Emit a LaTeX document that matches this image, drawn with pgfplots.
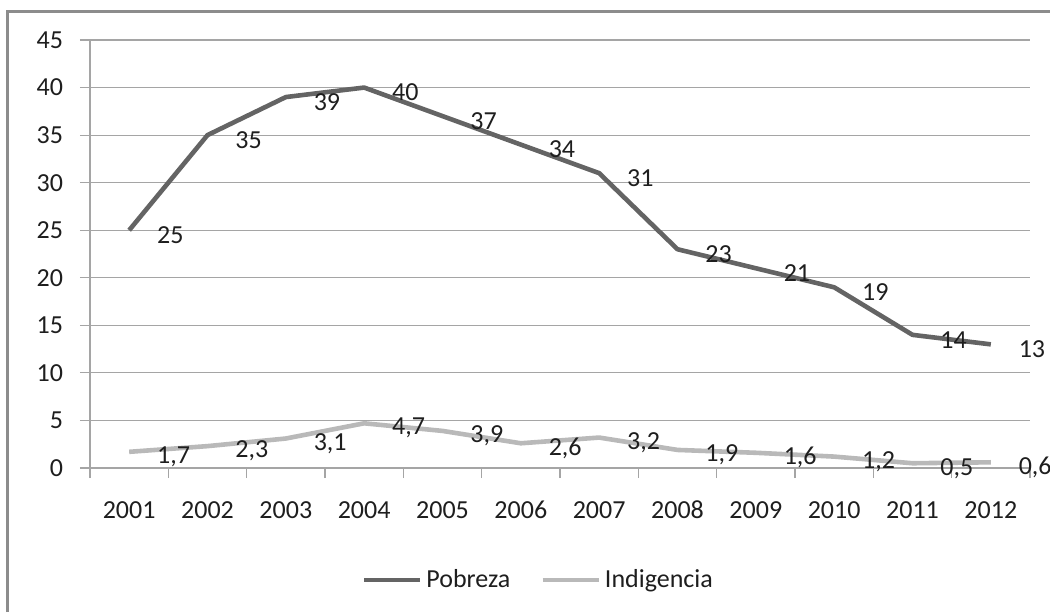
\documentclass[border=0pt]{standalone}
\usepackage{fontspec}
\setmainfont{Carlito}
\usepackage{pgfplots}
\pgfplotsset{compat=1.18}
\definecolor{pob}{RGB}{100,100,100}
\definecolor{ind}{RGB}{185,185,185}
\definecolor{gridc}{RGB}{165,165,165}
\definecolor{txt}{RGB}{30,30,30}
\definecolor{framec}{RGB}{140,140,140}
\newcommand{\lbl}{\fontsize{13}{15}\selectfont}
\begin{document}
\begin{tikzpicture}
\path[use as bounding box] (-45pt,-72pt) rectangle (480pt,234pt);
\begin{axis}[
  at={(0pt,0pt)}, anchor=south west,
  width=470pt, height=214pt, scale only axis,
  xmin=-0.5, xmax=11.5, ymin=0, ymax=45,
  xtick={0,...,11},
  xticklabels={2001,2002,2003,2004,2005,2006,2007,2008,2009,2010,2011,2012},
  major x tick style={draw=none},
  minor xtick={-0.5,0.5,...,11.5},
  ytick={0,5,...,45},
  ymajorgrids,
  grid style={gridc, line width=0.6pt},
  axis x line*=bottom, axis y line*=left,
  axis line style={gridc, line width=0.6pt, -},
  tick align=outside, major tick length=5pt, minor tick length=5pt,
  tick style={gridc, line width=0.6pt},
  /pgf/number format/assume math mode=true,
  yticklabel style={font=\lbl, text=txt, xshift=-5pt},
  xticklabel style={font=\lbl, text=txt, text height=8.2pt, text depth=0pt, yshift=-8.5pt},
  legend columns=2,
  legend style={at={(0.478,-0.262)}, anchor=center, draw=none, fill=none,
    font=\lbl, text=txt,
    /tikz/every even column/.append style={column sep=13pt}},
  legend image code/.code={\draw[#1] (0pt,0pt) -- (28pt,0pt);},
  every node near coord/.append style={anchor=west, xshift=9.5pt, yshift=-2.5pt, text=txt, font=\lbl},
]
\addplot[pob, line width=2.3pt, line join=round, nodes near coords, point meta=explicit symbolic]
  table[x=x, y=y, meta=l] {
x y l
0 25 25
1 35 35
2 39 39
3 40 40
4 37 37
5 34 34
6 31 31
7 23 23
8 21 21
9 19 19
10 14 14
11 13 13
};
\addlegendentry{Pobreza}
\addplot[ind, line width=2.3pt, line join=round, nodes near coords, point meta=explicit symbolic]
  table[x=x, y=y, meta=l] {
x y l
0 1.7 {1,7}
1 2.3 {2,3}
2 3.1 {3,1}
3 4.7 {4,7}
4 3.9 {3,9}
5 2.6 {2,6}
6 3.2 {3,2}
7 1.9 {1,9}
8 1.6 {1,6}
9 1.2 {1,2}
10 0.5 {0,5}
11 0.6 {0,6}
};
\addlegendentry{Indigencia}
\end{axis}
\draw[framec, line width=1.5pt] (-41pt,-72pt) -- (-41pt,228.5pt) -- (482pt,228.5pt);
\end{tikzpicture}
\end{document}
